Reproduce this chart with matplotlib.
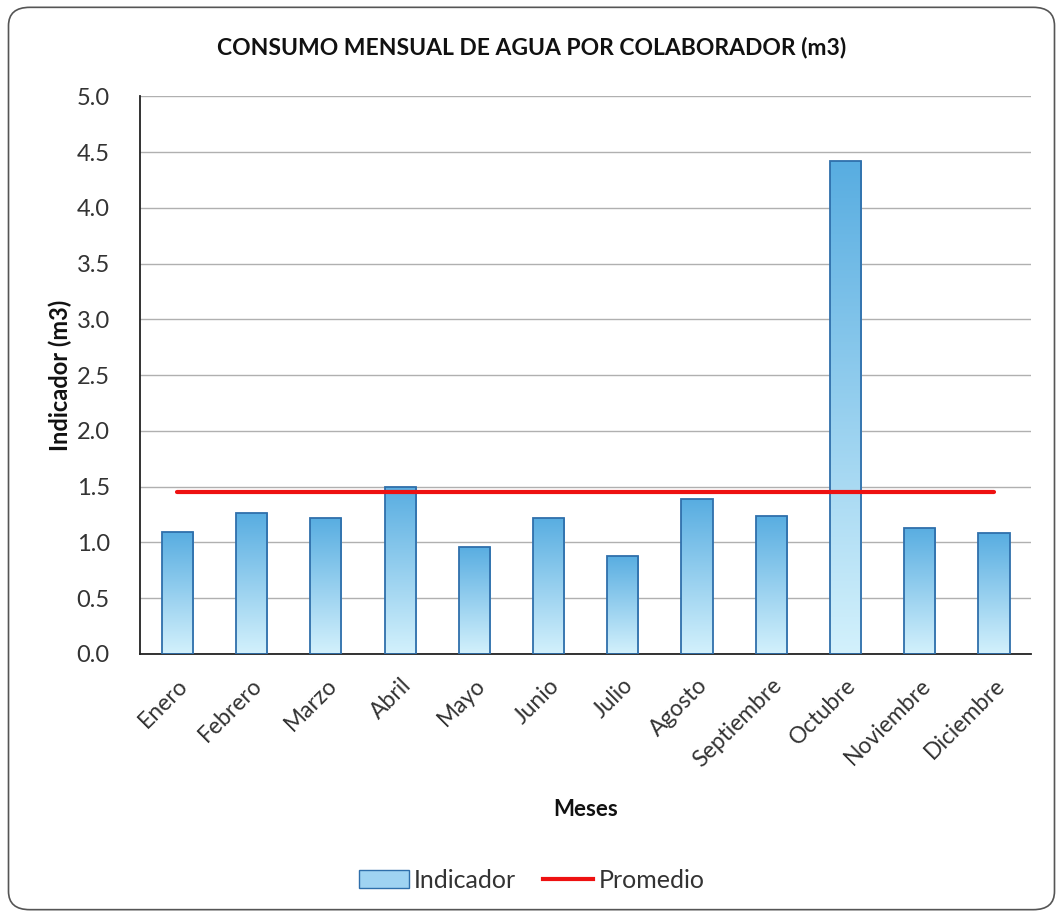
import matplotlib
matplotlib.use("Agg")
import matplotlib.pyplot as plt
import numpy as np
from matplotlib.patches import FancyBboxPatch, Patch
from matplotlib.lines import Line2D
from matplotlib.colors import LinearSegmentedColormap

plt.rcParams['font.family'] = ['Lato', 'DejaVu Sans']

meses = ["Enero", "Febrero", "Marzo", "Abril", "Mayo", "Junio", "Julio",
         "Agosto", "Septiembre", "Octubre", "Noviembre", "Diciembre"]
indicador = [1.09, 1.26, 1.22, 1.50, 0.96, 1.22, 0.88, 1.39, 1.24, 4.42, 1.13, 1.08]
promedio = [1.45] * 12
yticks = [0.0, 0.5, 1.0, 1.5, 2.0, 2.5, 3.0, 3.5, 4.0, 4.5, 5.0]

fig = plt.figure(figsize=(10.63, 9.17), dpi=100)
border = FancyBboxPatch((0.008, 0.008), 0.984, 0.984,
                        boxstyle="round,pad=0,rounding_size=0.02",
                        transform=fig.transFigure, facecolor="none",
                        edgecolor="#555555", linewidth=1.2, zorder=0)
fig.patches.append(border)

ax = fig.add_axes([0.132, 0.287, 0.838, 0.608])
ax.set_zorder(2)
ax.patch.set_alpha(0)
x = np.arange(len(meses))
bars = ax.bar(x, indicador, width=0.42, color="none", edgecolor="#2f6fab",
              linewidth=1.3, zorder=3)
cmap = LinearSegmentedColormap.from_list("g", ["#d3f1fc", "#58ade1"])
grad = np.linspace(0, 1, 256).reshape(-1, 1)
for b in bars:
    x0, y0 = b.get_x(), b.get_y()
    w, h = b.get_width(), b.get_height()
    im = ax.imshow(grad, cmap=cmap, origin="lower", aspect="auto",
                   extent=(x0, x0 + w, y0, y0 + h), zorder=2)
    im.set_clip_path(b)

ax.plot(x, promedio, color="#ee1111", linewidth=3, zorder=4, solid_capstyle="round")

ax.set_xlim(-0.5, len(meses) - 0.5)
ax.set_ylim(0, 5.0)
ax.set_yticks(yticks)
ax.set_yticklabels([f"{v:.1f}" for v in yticks], fontsize=17, color="#333333")
ax.set_xticks(x)
ax.set_xticklabels(meses, rotation=45, ha="right", rotation_mode="anchor",
                   fontsize=16.5, color="#333333")
ax.tick_params(axis="x", length=0, pad=15)
ax.tick_params(axis="y", length=0, pad=22)
ax.grid(axis="y", color="#b0b0b0", linewidth=1.0, zorder=0)
ax.set_axisbelow(True)
for s in ["top", "right"]:
    ax.spines[s].set_visible(False)
ax.spines["left"].set_color("#222222")
ax.spines["bottom"].set_color("#222222")
ax.spines["left"].set_linewidth(1.3)
ax.spines["bottom"].set_linewidth(1.3)

ax.set_ylabel("Indicador (m3)", fontsize=17, fontweight="bold", labelpad=3,
              color="#111111")
ax.set_xlabel("Meses", fontsize=16, fontweight="bold", labelpad=20, color="#111111")
fig.text(0.5, 0.948, "CONSUMO MENSUAL DE AGUA POR COLABORADOR (m3)",
         ha="center", va="center", fontsize=16.5, fontweight="bold", color="#111111")

handles = [Patch(facecolor="#9fd3f2", edgecolor="#2f6fab", label="Indicador"),
           Line2D([0], [0], color="#ee1111", linewidth=3, label="Promedio")]
fig.legend(handles=handles, loc="center", bbox_to_anchor=(0.5, 0.04), ncol=2,
           frameon=False, fontsize=18, handlelength=2.0, columnspacing=1.1,
           handletextpad=0.2, labelcolor="#333333")

fig.savefig("out.png", dpi=100)
